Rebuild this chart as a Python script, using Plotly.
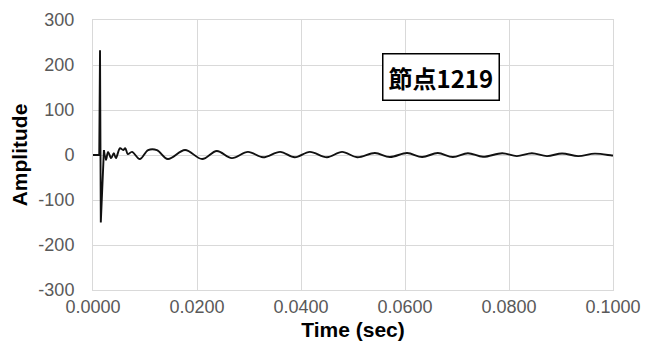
import plotly.graph_objects as go

# Impulse: quiet baseline, sharp spike, then into the ringing
pulse_t = [0.0000, 0.0012, 0.00135, 0.0015, 0.0021]
pulse_v = [0, 0, 233, -150, 11]

# Ringing response: successive turning points of the decaying oscillation
ring_t = [0.0021, 0.0025, 0.0029, 0.0035, 0.0040, 0.0044, 0.0052, 0.0058, 0.0062,
          0.0067, 0.0075, 0.0090, 0.0106, 0.0123, 0.0144, 0.0177, 0.0210, 0.0238,
          0.0267, 0.0298, 0.0327, 0.0360, 0.0388, 0.0417, 0.0450, 0.0479, 0.0508,
          0.0542, 0.0571, 0.0604, 0.0633, 0.0663, 0.0692, 0.0721, 0.0750, 0.0787,
          0.0815, 0.0844, 0.0873, 0.0902, 0.0933, 0.0965, 0.0998, 0.1000]
ring_v = [11, -11, 7, -7, 4, -7, 15, 11, 15,
          2, 7, -9, 11, 11, -9, 11, -9, 9,
          -7, 7, -5, 7, -5, 7, -5, 7, -5,
          4.5, -4.5, 4.5, -4.5, 4.5, -4.5, 4, -4, 4,
          -2.5, 4, -2.5, 3.5, -2.5, 3, -1, -1]

x_ticks = [0.0, 0.02, 0.04, 0.06, 0.08, 0.10]
x_labels = ["0.0000", "0.0200", "0.0400", "0.0600", "0.0800", "0.1000"]
y_ticks = [-300, -200, -100, 0, 100, 200, 300]
y_labels = ["-300", "-200", "-100", "0", "100", "200", "300"]
node_label = "節点1219"

line_style = dict(color="#111111", width=1.9)

fig = go.Figure()
fig.add_trace(go.Scatter(x=pulse_t, y=pulse_v, mode="lines",
                         line=dict(shape="linear", **line_style), showlegend=False))
fig.add_trace(go.Scatter(x=ring_t, y=ring_v, mode="lines",
                         line=dict(shape="spline", smoothing=1.0, **line_style),
                         showlegend=False))

grid = "#d9d9d9"
tick_font = dict(family="Liberation Sans, Arial, sans-serif", size=18, color="#595959")
title_font = dict(family="Liberation Sans, Arial, sans-serif", size=21, color="#000000")

fig.update_layout(
    width=645, height=351,
    margin=dict(l=93, r=32, t=20, b=61, autoexpand=False),
    paper_bgcolor="white", plot_bgcolor="white",
    xaxis=dict(range=[0, 0.1], tickvals=x_ticks, ticktext=x_labels, automargin=False,
               showgrid=True, gridcolor=grid, gridwidth=1,
               showline=True, linecolor=grid, linewidth=1, mirror=True,
               zeroline=False, ticks="", tickfont=tick_font,
               title=dict(text="<b>Time (sec)</b>", font=title_font, standoff=6)),
    yaxis=dict(range=[-300, 300], tickvals=y_ticks, ticktext=y_labels, automargin=False,
               showgrid=True, gridcolor=grid, gridwidth=1,
               showline=True, linecolor=grid, linewidth=1, mirror=True,
               zeroline=False, ticks="", tickfont=tick_font, ticklabelstandoff=14,
               title=dict(text="<b>Amplitude</b>", font=title_font, standoff=5)),
    annotations=[dict(
        text=f"<b>{node_label}</b>", xref="paper", yref="paper",
        x=0.669, y=0.79, xanchor="center", yanchor="middle", showarrow=False,
        font=dict(family="Noto Sans CJK JP, sans-serif", size=24, color="#000000"),
        bgcolor="white", bordercolor="#000000", borderwidth=1.5, borderpad=5)],
)

fig.write_html("out.html")
